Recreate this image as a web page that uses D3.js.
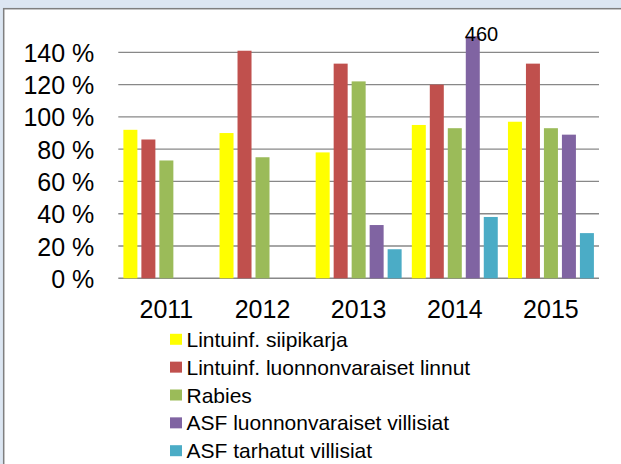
<!DOCTYPE html>
<html>
<head>
<meta charset="utf-8">
<script src="https://cdnjs.cloudflare.com/ajax/libs/d3/7.8.5/d3.min.js"></script>
<style>
  body { margin: 0; background: #fff; }
  svg text { font-family: "Liberation Sans", Arial, sans-serif; fill: #000; }
</style>
</head>
<body>
<svg id="chart" width="621" height="464"></svg>
<script>
const years = ["2011", "2012", "2013", "2014", "2015"];
const seriesNames = [
  "Lintuinf. siipikarja",
  "Lintuinf. luonnonvaraiset linnut",
  "Rabies",
  "ASF luonnonvaraiset villisiat",
  "ASF tarhatut villisiat"
];
const siipikarja = [92, 90, 78, 95, 97];
const luonnonLinnut = [86, 141, 133, 120, 133];
const rabies = [73, 75, 122, 93, 93];
const asfLuonnon = [null, null, 33, 460, 89];
const asfTarhatut = [null, null, 18, 38, 28];
const yTicks = [0, 20, 40, 60, 80, 100, 120, 140];
const colors = ["#ffff00", "#c0504d", "#9bbb59", "#8064a2", "#4bacc6"];

const allSeries = [siipikarja, luonnonLinnut, rabies, asfLuonnon, asfTarhatut];
const yMax = 150;

const svg = d3.select("#chart");
const plot = { left: 118.3, right: 599, top: 36.2, bottom: 278.3 };

// frame
svg.append("rect").attr("width", 621).attr("height", 464).attr("fill", "#dce6f2");
svg.append("rect")
  .attr("x", 3.7).attr("y", 8.7).attr("width", 640).attr("height", 480)
  .attr("fill", "#fff").attr("stroke", "#7f7f7f").attr("stroke-width", 1.5);

const x0 = d3.scaleBand().domain(years).range([plot.left, plot.right]);
const x1 = d3.scaleBand().domain(d3.range(5)).range([0, x0.bandwidth()])
  .paddingInner(0.222).paddingOuter(0.283);
const y = d3.scaleLinear().domain([0, yMax]).range([plot.bottom, plot.top]);

// gridlines
svg.append("g").selectAll("line")
  .data(yTicks)
  .join("line")
  .attr("x1", plot.left).attr("x2", plot.right)
  .attr("y1", d => y(d)).attr("y2", d => y(d))
  .attr("stroke", "#888").attr("stroke-width", d => d === 0 ? 1.6 : 1.3);

// y axis labels
const yAxis = svg.append("g")
  .attr("transform", `translate(${plot.left},0)`)
  .call(d3.axisLeft(y).tickValues(yTicks).tickSize(0).tickPadding(24).tickFormat(d => d + " %"));
yAxis.select(".domain").remove();
yAxis.selectAll("text").style("font-size", "25px").attr("dy", "0.36em");

// x axis labels
const xAxis = svg.append("g")
  .attr("transform", `translate(0,${plot.bottom})`)
  .call(d3.axisBottom(x0).tickSize(0).tickPadding(22));
xAxis.select(".domain").remove();
xAxis.selectAll("text").style("font-size", "25px");

// bars
const cells = [];
years.forEach((yr, i) => {
  allSeries.forEach((s, j) => {
    if (s[i] != null) cells.push({ year: yr, idx: j, value: s[i] });
  });
});

svg.append("g").selectAll("rect")
  .data(cells)
  .join("rect")
  .attr("x", d => x0(d.year) + x1(d.idx))
  .attr("y", d => y(Math.min(d.value, yMax)))
  .attr("width", x1.bandwidth())
  .attr("height", d => y(0) - y(Math.min(d.value, yMax)))
  .attr("fill", d => colors[d.idx]);

// label for clipped bar
svg.append("g").selectAll("text")
  .data(cells.filter(d => d.value > yMax))
  .join("text")
  .attr("x", d => x0(d.year) + x1(d.idx) - 1)
  .attr("y", 40.7)
  .style("font-size", "20px")
  .text(d => d.value);

// legend
const legend = svg.append("g").attr("transform", "translate(170,339.3)");
const rows = legend.selectAll("g")
  .data(seriesNames)
  .join("g")
  .attr("transform", (d, i) => `translate(0,${i * 27.85})`);
rows.append("rect")
  .attr("x", 0).attr("y", -5.5).attr("width", 12).attr("height", 11)
  .attr("fill", (d, i) => colors[i]);
rows.append("text")
  .attr("x", 16.5).attr("y", 0).attr("dy", "0.36em")
  .style("font-size", "21px")
  .text(d => d);
</script>
</body>
</html>
